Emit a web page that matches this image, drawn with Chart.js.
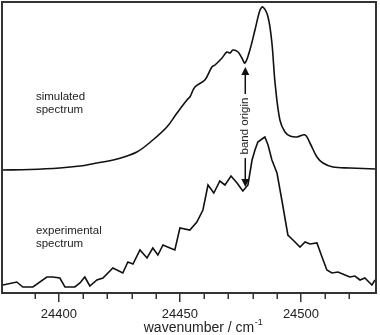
<!DOCTYPE html>
<html>
<head>
<meta charset="utf-8">
<script src="https://cdn.jsdelivr.net/npm/chart.js@4/dist/chart.umd.min.js"></script>
<style>
  html, body { margin: 0; padding: 0; background: #fff; }
  #wrap { width: 380px; height: 335px; position: relative; }
</style>
</head>
<body>
<div id="wrap"><canvas id="c"></canvas></div>
<script>
// Simulated spectrum (offset upward), wavenumber / cm-1 vs intensity (arb. units)
const simWavenumber = [24376.5, 24388.0, 24400.4, 24408.7, 24415.7, 24424.0, 24432.2, 24438.8, 24444.6, 24448.8,
  24452.9, 24454.1, 24456.2, 24460.3, 24463.2, 24464.5, 24467.4, 24469.4, 24470.7, 24471.9,
  24474.0, 24475.6, 24476.9, 24478.9, 24481.0, 24483.1, 24484.3, 24486.4, 24488.0, 24489.3,
  24491.3, 24493.4, 24495.5, 24498.3, 24501.7, 24503.7, 24506.6, 24509.1, 24513.2, 24520.2, 24531.0];
const simIntensity = [123, 123.5, 125, 127, 130, 134, 141, 153, 166, 180,
  193, 196, 206, 213, 226, 228, 235, 241, 240, 243,
  241, 235, 230, 243, 263, 283, 286, 276, 250, 210,
  173, 161, 157, 156, 158, 150, 136, 130, 126, 125, 124];

// Experimental spectrum
const expWavenumber = [24376.9, 24382.6, 24385.1, 24389.3, 24395.0, 24397.5, 24400.4, 24402.5, 24406.6, 24408.7,
  24410.7, 24412.8, 24415.7, 24418.2, 24422.3, 24426.4, 24428.5, 24430.6, 24433.5, 24436.4,
  24438.8, 24440.9, 24443.0, 24445.9, 24447.9, 24450.0, 24454.1, 24457.0, 24459.5, 24461.6,
  24464.0, 24466.5, 24468.6, 24471.1, 24473.6, 24476.0, 24478.1, 24479.8, 24481.0, 24482.2,
  24483.9, 24485.1, 24486.4, 24488.0, 24490.1, 24492.1, 24494.6, 24496.7, 24499.6, 24501.7,
  24503.7, 24506.6, 24508.7, 24510.7, 24512.8, 24515.3, 24518.2, 24520.2, 24522.3, 24524.4,
  24526.4, 24529.3, 24530.6];
const expIntensity = [8, 11, 6, 6, 16, 16, 15, 6, 6, 10,
  16, 7, 13, 15, 25, 20, 31, 29, 43, 35,
  45, 38, 48, 45, 43, 65, 63, 71, 83, 108,
  100, 112, 108, 117, 110, 102, 108, 133, 143, 151,
  154, 156, 148, 133, 120, 93, 58, 53, 46, 51,
  49, 50, 36, 23, 20, 21, 18, 16, 17, 13,
  15, 8, 13];

// Tick labels shown on the x axis (major ticks); minor ticks every 10
const xTickLabels = [24400, 24450, 24500];

// Text labels
const seriesLabels = [["simulated", "spectrum"], ["experimental", "spectrum"]];
const axisTitle = "wavenumber / cm";
const axisTitleSup = "-1";
const bandOrigin = 24477; // cm-1
const bandOriginLabel = "band origin";

const toPts = (xs, ys) => xs.map((x, i) => ({ x: x, y: ys[i] }));

const FONT = "'Liberation Sans', Arial, sans-serif";
const INK = '#222';

const overlay = {
  id: 'overlay',
  afterDraw(chart) {
    const { ctx, chartArea: a, scales } = chart;
    const xs = scales.x, ys = scales.y;
    ctx.save();
    // frame
    ctx.strokeStyle = '#333';
    ctx.lineWidth = 2;
    ctx.strokeRect(a.left, a.top, a.right - a.left, a.bottom - a.top);

    // minor ticks (short) from the scale's tick list
    ctx.lineWidth = 1.5;
    ctx.beginPath();
    xs.ticks.forEach(t => {
      if (xTickLabels.includes(t.value)) return;
      const px = Math.round(xs.getPixelForValue(t.value)) + 0.25;
      ctx.moveTo(px, a.bottom);
      ctx.lineTo(px, a.bottom + 6);
    });
    ctx.stroke();

    // axis title with superscript
    ctx.fillStyle = INK;
    ctx.font = "14px " + FONT;
    ctx.textBaseline = 'alphabetic';
    ctx.textAlign = 'left';
    const w1 = ctx.measureText(axisTitle).width;
    ctx.font = "9px " + FONT;
    const w2 = ctx.measureText(axisTitleSup).width;
    const tx = 203 - (w1 + w2) / 2;
    ctx.font = "14px " + FONT;
    ctx.fillText(axisTitle, tx, 332);
    ctx.font = "9px " + FONT;
    ctx.fillText(axisTitleSup, tx + w1 + 0.5, 325);

    // series labels (anchored in data coords)
    ctx.fillStyle = INK;
    ctx.font = "11.5px " + FONT;
    ctx.textBaseline = 'middle';
    ctx.textAlign = 'left';
    const labelPos = [[24390.5, 196], [24390.5, 62]];
    seriesLabels.forEach((lines, k) => {
      const px = xs.getPixelForValue(labelPos[k][0]);
      const py = ys.getPixelForValue(labelPos[k][1]);
      lines.forEach((t, j) => ctx.fillText(t, px, py + j * 13));
    });

    // band origin double arrow
    const bx = xs.getPixelForValue(bandOrigin);
    const yTop = ys.getPixelForValue(226);
    const yBot = ys.getPixelForValue(106);
    const yTextC = ys.getPixelForValue(167);
    const head = 8, hw = 4;
    ctx.strokeStyle = '#111';
    ctx.fillStyle = '#111';
    ctx.lineWidth = 1.5;
    ctx.beginPath();
    ctx.moveTo(bx, yTop + head); ctx.lineTo(bx, yTextC - 32);
    ctx.moveTo(bx, yTextC + 32); ctx.lineTo(bx, yBot - head);
    ctx.stroke();
    ctx.beginPath();
    ctx.moveTo(bx, yTop); ctx.lineTo(bx - hw, yTop + head); ctx.lineTo(bx + hw, yTop + head); ctx.closePath();
    ctx.fill();
    ctx.beginPath();
    ctx.moveTo(bx, yBot); ctx.lineTo(bx - hw, yBot - head); ctx.lineTo(bx + hw, yBot - head); ctx.closePath();
    ctx.fill();
    ctx.translate(bx, yTextC);
    ctx.rotate(-Math.PI / 2);
    ctx.fillStyle = INK;
    ctx.font = "11.5px " + FONT;
    ctx.textAlign = 'center';
    ctx.textBaseline = 'middle';
    ctx.fillText(bandOriginLabel, 0, 0);
    ctx.restore();
  }
};

new Chart(document.getElementById('c'), {
  type: 'line',
  data: {
    datasets: [
      { label: 'simulated', data: toPts(simWavenumber, simIntensity), borderColor: '#111', borderWidth: 1.6,
        pointRadius: 0, tension: 0.35, fill: false },
      { label: 'experimental', data: toPts(expWavenumber, expIntensity), borderColor: '#111', borderWidth: 1.6,
        pointRadius: 0, tension: 0, fill: false }
    ]
  },
  options: {
    responsive: true,
    maintainAspectRatio: false,
    animation: false,
    layout: { padding: { left: 2, top: 2, right: 4, bottom: 0 } },
    plugins: { legend: { display: false }, tooltip: { enabled: false } },
    scales: {
      x: {
        type: 'linear',
        min: 24376.5,
        max: 24531,
        afterFit(s) { s.height = 42; },
        afterBuildTicks(s) { s.ticks = s.ticks.filter(t => Math.abs(t.value % 10) < 1e-6); },
        ticks: {
          stepSize: 10,
          autoSkip: false,
          maxRotation: 0,
          padding: 5,
          color: INK,
          font: { family: FONT, size: 13 },
          callback: (v) => xTickLabels.includes(v) ? String(v) : ''
        },
        grid: {
          drawOnChartArea: false, drawTicks: true, tickLength: 9, lineWidth: 1.5,
          tickColor: (c) => (c.tick && xTickLabels.includes(c.tick.value)) ? '#333' : 'rgba(0,0,0,0)'
        },
        border: { display: true, color: '#333', width: 2 },
        title: { display: false }
      },
      y: { display: false, min: 0, max: 291 }
    }
  },
  plugins: [overlay]
});
</script>
</body>
</html>
